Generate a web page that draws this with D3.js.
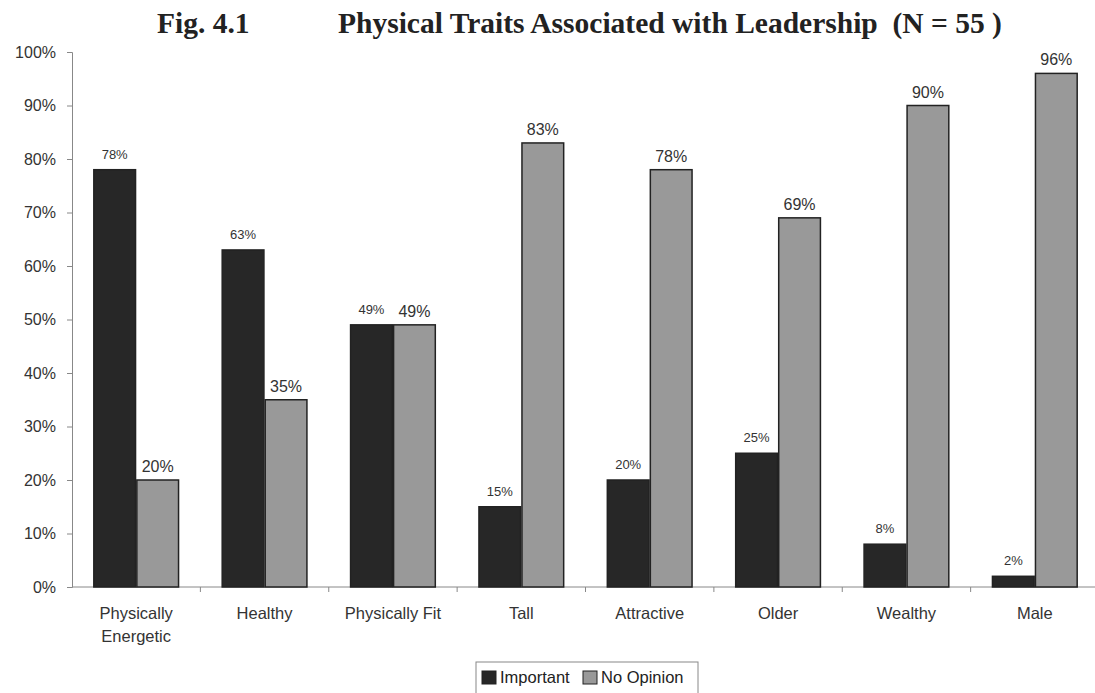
<!DOCTYPE html>
<html>
<head>
<meta charset="utf-8">
<script src="https://cdn.jsdelivr.net/npm/d3@7"></script>
<style>
  body { margin: 0; background: #fff; }
  svg { display: block; }
</style>
</head>
<body>
<div id="chart"></div>
<script>
// data
var categories = ['Physically Energetic', 'Healthy', 'Physically Fit', 'Tall', 'Attractive', 'Older', 'Wealthy', 'Male'];
var important = [78, 63, 49, 15, 20, 25, 8, 2];
var noOpinion = [20, 35, 49, 83, 78, 69, 90, 96];
var yTicks = [0, 10, 20, 30, 40, 50, 60, 70, 80, 90, 100];
var seriesNames = ['Important', 'No Opinion'];

var W = 1095, H = 693;
var margin = {top: 52, left: 72, right: -4, bottom: 106};
var sans = '"Liberation Sans", Arial, sans-serif';

var svg = d3.select('#chart').append('svg')
    .attr('width', W)
    .attr('height', H);

var x = d3.scaleBand()
    .domain(categories)
    .range([margin.left, W - margin.right])
    .paddingInner(0.34)
    .paddingOuter(0.17);

var x1 = d3.scaleBand()
    .domain(seriesNames)
    .range([0, x.bandwidth()])
    .paddingInner(0.03);

var y = d3.scaleLinear()
    .domain([0, 100])
    .range([H - margin.bottom, margin.top]);

var colors = {'Important': '#272727', 'No Opinion': '#999999'};

// title
var title = svg.append('text')
    .attr('y', 33)
    .style('font-family', '"Liberation Serif", "Times New Roman", serif')
    .style('font-weight', 'bold')
    .style('font-size', '29.5px')
    .style('fill', '#222');
title.append('tspan').attr('x', 157).text('Fig. 4.1');
title.append('tspan').attr('x', 338).text('Physical Traits Associated with Leadership  (N = 55 )')
    .style('white-space', 'pre');

// y axis
var yAxis = svg.append('g')
    .attr('transform', 'translate(' + margin.left + ',0)')
    .call(d3.axisLeft(y).tickValues(yTicks).tickSize(5).tickPadding(11).tickFormat(d => d + '%'));
yAxis.select('.domain').attr('stroke', '#888');
yAxis.selectAll('.tick line').attr('stroke', '#888');
yAxis.selectAll('text')
    .style('font-family', sans)
    .style('font-size', '16px')
    .style('fill', '#333');

// x axis (ticks between categories)
var base = H - margin.bottom;
var step = x.step();
var boundaries = d3.range(1, categories.length).map(i => x(categories[i]) - x.paddingInner() * step / 2);
svg.append('line')
    .attr('x1', margin.left).attr('x2', W)
    .attr('y1', base).attr('y2', base)
    .attr('stroke', '#888');
svg.selectAll('.xtick')
    .data(boundaries)
    .enter().append('line')
    .attr('x1', d => d).attr('x2', d => d)
    .attr('y1', base).attr('y2', base + 5)
    .attr('stroke', '#888');

var xLabels = svg.selectAll('.xlabel')
    .data(categories)
    .enter().append('text')
    .attr('class', 'xlabel')
    .attr('text-anchor', 'middle')
    .attr('y', base + 32)
    .style('font-family', sans)
    .style('font-size', '16.5px')
    .style('fill', '#333');
xLabels.each(function(d) {
    var cx = x(d) + x.bandwidth() / 2;
    var words = d === 'Physically Energetic' ? ['Physically', 'Energetic'] : [d];
    var t = d3.select(this);
    words.forEach((w, i) => {
        t.append('tspan').attr('x', cx).attr('dy', i === 0 ? 0 : 23).text(w);
    });
});

// bars
var rows = categories.map((c, i) => ({cat: c, vals: [
    {name: 'Important', v: important[i]},
    {name: 'No Opinion', v: noOpinion[i]}
]}));

var groups = svg.selectAll('.grp')
    .data(rows)
    .enter().append('g')
    .attr('transform', d => 'translate(' + x(d.cat) + ',0)');

groups.selectAll('rect')
    .data(d => d.vals)
    .enter().append('rect')
    .attr('x', d => x1(d.name))
    .attr('width', x1.bandwidth())
    .attr('y', d => y(d.v))
    .attr('height', d => y(0) - y(d.v))
    .attr('fill', d => colors[d.name])
    .attr('stroke', '#222')
    .attr('stroke-width', 1.5);

groups.selectAll('.lbl')
    .data(d => d.vals)
    .enter().append('text')
    .attr('text-anchor', 'middle')
    .attr('x', d => x1(d.name) + x1.bandwidth() / 2)
    .attr('y', d => y(d.v) - (d.name === 'Important' ? 11 : 8))
    .style('font-family', sans)
    .style('font-size', d => d.name === 'Important' ? '13px' : '16px')
    .style('fill', '#333')
    .text(d => d.v + '%');

// legend
var legend = svg.append('g').attr('transform', 'translate(476,662)');
legend.append('rect')
    .attr('width', 222).attr('height', 34)
    .attr('fill', '#fff')
    .attr('stroke', '#888');
var legX = [6, 107];
seriesNames.forEach((s, i) => {
    legend.append('rect')
        .attr('x', legX[i]).attr('y', 9)
        .attr('width', 14).attr('height', 13)
        .attr('fill', colors[s])
        .attr('stroke', '#222');
    legend.append('text')
        .attr('x', legX[i] + 18).attr('y', 21)
        .style('font-family', sans)
        .style('font-size', '16.5px')
        .style('fill', '#222')
        .text(s);
});
</script>
</body>
</html>
